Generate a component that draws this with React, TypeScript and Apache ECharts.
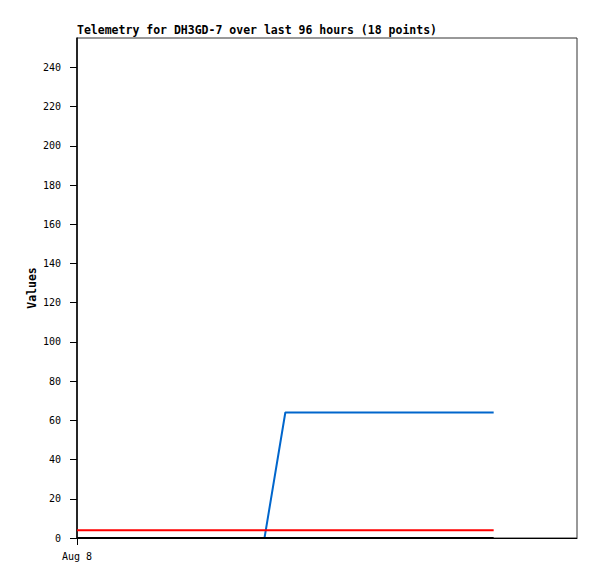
import React, { useEffect, useRef } from "react";
import * as echarts from "echarts";

const hours = [0, 4, 8, 12, 16, 20, 24, 28, 32, 36, 40, 46, 52, 58, 64, 70, 75, 80];
const blueValues = [0, 0, 0, 0, 0, 0, 0, 0, 0, 0, 64, 64, 64, 64, 64, 64, 64, 64];
const redValues = [4, 4, 4, 4, 4, 4, 4, 4, 4, 4, 4, 4, 4, 4, 4, 4, 4, 4];
const blackValues = [0, 0, 0, 0, 0, 0, 0, 0, 0, 0, 0, 0, 0, 0, 0, 0, 0, 0];
const yTicks = [0, 20, 40, 60, 80, 100, 120, 140, 160, 180, 200, 220, 240];
const xTicks = [0];
const xTickLabels = ["Aug 8"];
const title = "Telemetry for DH3GD-7 over last 96 hours (18 points)";

const mono = "DejaVu Sans Mono";

export default function App() {
  const ref = useRef<HTMLDivElement>(null);
  useEffect(() => {
    const chart = echarts.init(ref.current!, null, { renderer: "svg" });
    const pair = (vals: number[]) => hours.map((h, i) => [h, vals[i]]);
    chart.setOption({
      animation: false,
      backgroundColor: "#ffffff",
      title: {
        text: title,
        left: 77,
        top: 24,
        padding: 0,
        textStyle: { fontFamily: mono, fontSize: 11.5, fontWeight: "bold", color: "#000" },
      },
      grid: {
        left: 77,
        right: 20,
        top: 38,
        bottom: 41,
        show: true,
        borderColor: "#333",
        borderWidth: 1,
        backgroundColor: "#fff",
      },
      xAxis: {
        type: "value",
        min: 0,
        max: 96,
        splitLine: { show: false },
        axisLine: { show: true, onZero: false, lineStyle: { color: "#000", width: 1 } },
        axisTick: { show: true, customValues: xTicks, length: 7, lineStyle: { color: "#000", width: 1 } },
        axisLabel: {
          customValues: xTicks,
          formatter: (v: number) => xTickLabels[xTicks.indexOf(v)] ?? "",
          fontFamily: mono,
          fontSize: 10,
          color: "#000",
          margin: 13,
          align: "center",
        },
      },
      yAxis: {
        type: "value",
        min: 0,
        max: 255,
        name: "Values",
        nameLocation: "middle",
        nameGap: 39,
        nameMoveOverlap: false,
        nameTextStyle: { fontFamily: mono, fontSize: 11.5, fontWeight: "bold", color: "#000" },
        splitLine: { show: false },
        axisLine: { show: true, lineStyle: { color: "#000", width: 1.5 } },
        axisTick: { show: true, customValues: yTicks, length: 7, lineStyle: { color: "#000", width: 1 } },
        axisLabel: {
          customValues: yTicks,
          fontFamily: mono,
          fontSize: 10,
          color: "#000",
          margin: 16,
        },
      },
      series: [
        {
          type: "line",
          data: pair(blueValues),
          showSymbol: false,
          lineStyle: { color: "#0066cc", width: 2 },
          z: 2,
        },
        {
          type: "line",
          data: pair(redValues),
          showSymbol: false,
          lineStyle: { color: "#ff0000", width: 2 },
          z: 3,
        },
        {
          type: "line",
          data: pair(blackValues),
          showSymbol: false,
          lineStyle: { color: "#000000", width: 2 },
          z: 4,
        },
      ],
    });
    return () => chart.dispose();
  }, []);
  return (
    <div
      ref={ref}
      style={{ position: "fixed", left: 0, top: 0, width: 597, height: 579 }}
    />
  );
}
